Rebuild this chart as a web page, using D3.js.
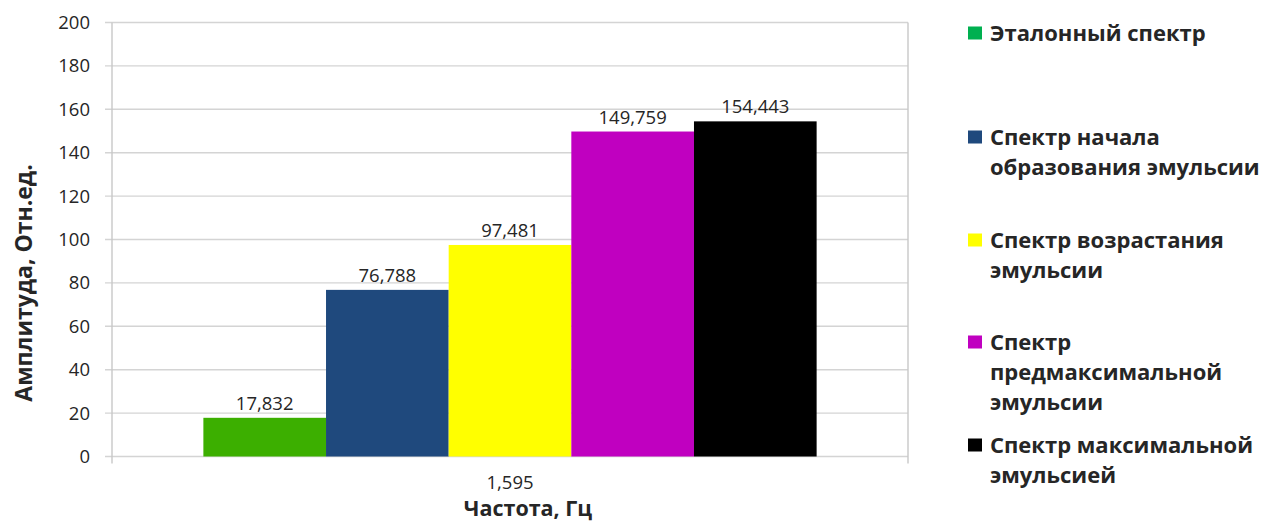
<!DOCTYPE html>
<html>
<head>
<meta charset="utf-8">
<script src="https://cdn.jsdelivr.net/npm/d3@7"></script>
<style>
  html, body { margin: 0; padding: 0; background: #fff; }
  svg { display: block; }
  text { font-family: "Open Sans", "DejaVu Sans", sans-serif; fill: #262626; }
</style>
</head>
<body>
<svg id="chart" width="1270" height="524"></svg>
<script>
// Frequency category on the x axis
const categories = ["1,595"];

// One series per spectrum stage
const seriesNames = [
  ["Эталонный спектр"],
  ["Спектр начала", "образования эмульсии"],
  ["Спектр возрастания", "эмульсии"],
  ["Спектр", "предмаксимальной", "эмульсии"],
  ["Спектр максимальной", "эмульсией"]
];
const seriesValues = [17.832, 76.788, 97.481, 149.759, 154.443];
const valueLabels = ["17,832", "76,788", "97,481", "149,759", "154,443"];
const barColors = ["#3caf00", "#1f497d", "#ffff00", "#c000c0", "#000000"];
const legendColors = ["#00b050", "#1f497d", "#ffff00", "#c000c0", "#000000"];

const yTicks = [0, 20, 40, 60, 80, 100, 120, 140, 160, 180, 200];

const svg = d3.select("#chart");
const plot = { left: 112, right: 908, top: 22.5, bottom: 456.5 };

const y = d3.scaleLinear().domain([0, 200]).range([plot.bottom, plot.top]);
const x0 = d3.scaleBand().domain(categories).range([plot.left, plot.right])
  .paddingInner(0).paddingOuter(0.149);
const x1 = d3.scaleBand().domain(d3.range(seriesValues.length))
  .range([0, x0.bandwidth()]).padding(0);

// Horizontal gridlines
svg.append("g")
  .selectAll("line")
  .data(yTicks)
  .join("line")
  .attr("x1", plot.left - 7)
  .attr("x2", plot.right)
  .attr("y1", d => y(d))
  .attr("y2", d => y(d))
  .attr("stroke", "#d4d4d4")
  .attr("stroke-width", 1.4);

// Plot frame (left axis and right edge)
svg.append("line")
  .attr("x1", plot.left).attr("x2", plot.left)
  .attr("y1", plot.top).attr("y2", plot.bottom + 7)
  .attr("stroke", "#c8c8c8").attr("stroke-width", 1.4);
svg.append("line")
  .attr("x1", plot.right).attr("x2", plot.right)
  .attr("y1", plot.top).attr("y2", plot.bottom + 7)
  .attr("stroke", "#c8c8c8").attr("stroke-width", 1.4);

// Y axis labels
const yAxis = d3.axisLeft(y).tickValues(yTicks).tickSize(0).tickPadding(22);
const yg = svg.append("g").attr("transform", `translate(${plot.left},0)`).call(yAxis);
yg.select(".domain").remove();
yg.selectAll("text")
  .style("font-family", "'Open Sans', sans-serif")
  .style("font-size", "18.5px")
  .attr("fill", "#262626");

// X axis label
const xAxis = d3.axisBottom(x0).tickSize(0).tickPadding(19);
const xg = svg.append("g").attr("transform", `translate(0,${plot.bottom})`).call(xAxis);
xg.select(".domain").remove();
xg.selectAll("text")
  .style("font-family", "'Open Sans', sans-serif")
  .style("font-size", "18.5px")
  .attr("fill", "#262626");

// Bars
const group = svg.append("g")
  .attr("transform", `translate(${x0(categories[0])},0)`);

group.selectAll("rect")
  .data(seriesValues)
  .join("rect")
  .attr("x", (d, i) => x1(i))
  .attr("width", x1.bandwidth())
  .attr("y", d => y(d))
  .attr("height", d => y(0) - y(d))
  .attr("fill", (d, i) => barColors[i]);

// Value labels
group.selectAll("text.val")
  .data(seriesValues)
  .join("text")
  .attr("class", "val")
  .attr("x", (d, i) => x1(i) + x1.bandwidth() / 2)
  .attr("y", d => y(d) - 8)
  .attr("text-anchor", "middle")
  .style("font-size", "18.5px")
  .text((d, i) => valueLabels[i]);

// Axis titles
svg.append("text")
  .attr("transform", "translate(32,283) rotate(-90)")
  .attr("text-anchor", "middle")
  .style("font-weight", "bold")
  .style("font-size", "23px")
  .attr("fill", "#000")
  .text("Амплитуда, Отн.ед.");

svg.append("text")
  .attr("x", 528)
  .attr("y", 516)
  .attr("text-anchor", "middle")
  .style("font-weight", "bold")
  .style("font-size", "21.5px")
  .attr("fill", "#000")
  .text("Частота, Гц");

// Legend
const legendRowsY = [33, 137, 240, 342, 445];
const lineHeight = 30;
const legend = svg.append("g");
seriesNames.forEach((lines, i) => {
  const cy = legendRowsY[i];
  legend.append("rect")
    .attr("x", 968).attr("y", cy - 6.5)
    .attr("width", 14).attr("height", 13)
    .attr("fill", legendColors[i]);
  const t = legend.append("text")
    .attr("x", 990)
    .attr("y", cy + 7.5)
    .style("font-weight", "bold")
    .style("font-size", "22px")
    .attr("fill", "#000");
  lines.forEach((ln, j) => {
    t.append("tspan")
      .attr("x", 990)
      .attr("dy", j === 0 ? 0 : lineHeight)
      .text(ln);
  });
});
</script>
</body>
</html>
